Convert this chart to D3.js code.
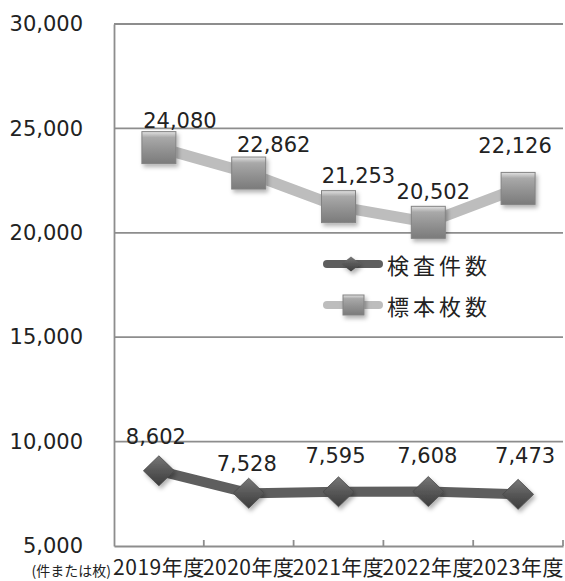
<!DOCTYPE html>
<html>
<head>
<meta charset="utf-8">
<script src="https://cdn.jsdelivr.net/npm/d3@7"></script>
<style>
  html, body { margin: 0; padding: 0; background: #fff; }
</style>
</head>
<body>
<div id="chart"></div>
<script>
// data
const years = ['2019年度', '2020年度', '2021年度', '2022年度', '2023年度'];
const inspections = [8602, 7528, 7595, 7608, 7473];   // 検査件数
const specimens = [24080, 22862, 21253, 20502, 22126]; // 標本枚数
const yTicks = [5000, 10000, 15000, 20000, 25000, 30000];
const seriesNames = ['検査件数', '標本枚数'];

// label nudges (labels were moved by hand in the original)
const specimenLabelShift = [[21, -20], [25, -21], [20, -24], [5, -23], [-3, -35]];
const inspectionLabelShift = [[-3, -27], [-2, -22], [-3, -29], [-1, -29], [7, -31]];

const width = 565;
const height = 581;
const margin = { top: 24, right: 2, bottom: 35, left: 114 };

const svg = d3.select('#chart')
    .append('svg')
    .attr('width', width)
    .attr('height', height);

const defs = svg.append('defs');

const shadow = defs.append('filter')
    .attr('id', 'shadow')
    .attr('x', '-50%').attr('y', '-50%')
    .attr('width', '200%').attr('height', '200%');
shadow.append('feDropShadow')
    .attr('dx', 2).attr('dy', 3)
    .attr('stdDeviation', 2)
    .attr('flood-color', '#000')
    .attr('flood-opacity', 0.3);

const sqGrad = defs.append('linearGradient')
    .attr('id', 'sqGrad').attr('x1', 0).attr('y1', 0).attr('x2', 0).attr('y2', 1);
[['0%', '#e2e2e2'], ['18%', '#a9a9a9'], ['55%', '#939393'], ['100%', '#7b7b7b']]
    .forEach(s => sqGrad.append('stop').attr('offset', s[0]).attr('stop-color', s[1]));

const diaGrad = defs.append('linearGradient')
    .attr('id', 'diaGrad').attr('x1', 0).attr('y1', 0).attr('x2', 0).attr('y2', 1);
[['0%', '#787878'], ['50%', '#575757'], ['100%', '#3d3d3d']]
    .forEach(s => diaGrad.append('stop').attr('offset', s[0]).attr('stop-color', s[1]));

const x = d3.scaleBand()
    .domain(years)
    .range([margin.left, width - margin.right]);

const y = d3.scaleLinear()
    .domain([5000, 30000])
    .range([height - margin.bottom, margin.top]);

const cx = d => x(d) + x.bandwidth() / 2;

// gridlines
svg.append('g')
    .selectAll('line')
    .data(yTicks.slice(1))
    .join('line')
    .attr('x1', margin.left)
    .attr('x2', width - margin.right)
    .attr('y1', d => y(d))
    .attr('y2', d => y(d))
    .attr('stroke', '#8d8d8d')
    .attr('stroke-width', 1.8);

// y axis
const yAxis = g => g.attr('transform', `translate(${margin.left},0)`)
    .call(d3.axisLeft(y)
        .tickValues(yTicks)
        .tickSize(0)
        .tickPadding(31)
        .tickFormat(d3.format(',')))
    .call(g => g.select('.domain').attr('stroke', '#8d8d8d').attr('stroke-width', 1.8))
    .call(g => g.selectAll('text')
        .attr('font-family', '"DejaVu Sans", sans-serif')
        .attr('font-size', 21)
        .attr('fill', '#222'));
svg.append('g').call(yAxis);

// x axis, ticks point inward
const xAxis = g => g.attr('transform', `translate(0,${y(5000)})`)
    .call(d3.axisBottom(x).tickSize(0).tickPadding(14))
    .call(g => g.select('.domain').attr('stroke', '#8d8d8d').attr('stroke-width', 1.8))
    .call(g => g.selectAll('text')
        .attr('font-family', '"Noto Sans CJK JP", sans-serif')
        .attr('font-size', 21)
        .attr('letter-spacing', 0.5)
        .attr('fill', '#222'));
svg.append('g').call(xAxis);

svg.append('g')
    .selectAll('line')
    .data(years.slice(1).map(d => x(d)).concat([x.range()[1]]))
    .join('line')
    .attr('x1', d => d).attr('x2', d => d)
    .attr('y1', y(5000)).attr('y2', y(5000) - 6)
    .attr('stroke', '#8d8d8d')
    .attr('stroke-width', 1.8);

svg.append('text')
    .attr('x', 111)
    .attr('y', 576)
    .attr('text-anchor', 'end')
    .attr('font-family', '"Noto Sans CJK JP", sans-serif')
    .attr('font-size', 14)
    .attr('fill', '#222')
    .text('(件または枚)');

const line = d3.line()
    .x((d, i) => cx(years[i]))
    .y(d => y(d));

// 標本枚数 line + squares
svg.append('path')
    .datum(specimens)
    .attr('d', line)
    .attr('fill', 'none')
    .attr('stroke', '#bdbdbd')
    .attr('stroke-width', 11)
    .attr('stroke-linejoin', 'round');

const sq = 34;
svg.append('g')
    .selectAll('rect')
    .data(specimens)
    .join('rect')
    .attr('x', (d, i) => cx(years[i]) - sq / 2)
    .attr('y', d => y(d) - sq / 2 + 1)
    .attr('width', sq)
    .attr('height', sq - 2)
    .attr('fill', 'url(#sqGrad)')
    .attr('stroke', '#838383')
    .attr('stroke-width', 1)
    .attr('filter', 'url(#shadow)');

// 検査件数 line + diamonds
svg.append('path')
    .datum(inspections)
    .attr('d', line)
    .attr('fill', 'none')
    .attr('stroke', '#5e5e5e')
    .attr('stroke-width', 10)
    .attr('stroke-linejoin', 'round');

const diamond = (px, py, w, h) =>
    `M${px},${py - h / 2}L${px + w / 2},${py}L${px},${py + h / 2}L${px - w / 2},${py}Z`;

svg.append('g')
    .selectAll('path')
    .data(inspections)
    .join('path')
    .attr('d', (d, i) => diamond(cx(years[i]), y(d), 31, 30))
    .attr('fill', 'url(#diaGrad)')
    .attr('stroke', '#4a4a4a')
    .attr('stroke-width', 0.8)
    .attr('filter', 'url(#shadow)');

// value labels
const labels = (values, shift) => svg.append('g')
    .selectAll('text')
    .data(values)
    .join('text')
    .attr('x', (d, i) => cx(years[i]) + shift[i][0])
    .attr('y', (d, i) => y(d) + shift[i][1])
    .attr('text-anchor', 'middle')
    .attr('font-family', '"DejaVu Sans", sans-serif')
    .attr('font-size', 21)
    .attr('fill', '#222')
    .text(d => d3.format(',')(d));

labels(specimens, specimenLabelShift);
labels(inspections, inspectionLabelShift);

// legend
const legend = svg.append('g');
const legendRows = [
    { name: seriesNames[0], y: 264, color: '#5e5e5e', mark: 'diamond' },
    { name: seriesNames[1], y: 305, color: '#bdbdbd', mark: 'square' }
];

legendRows.forEach(r => {
    legend.append('line')
        .attr('x1', 327).attr('x2', 379)
        .attr('y1', r.y).attr('y2', r.y)
        .attr('stroke', r.color)
        .attr('stroke-width', 8)
        .attr('stroke-linecap', 'round');
    if (r.mark === 'diamond') {
        legend.append('path')
            .attr('d', diamond(351, r.y, 19, 15))
            .attr('fill', 'url(#diaGrad)')
            .attr('filter', 'url(#shadow)');
    } else {
        legend.append('rect')
            .attr('x', 343).attr('y', r.y - 10)
            .attr('width', 21).attr('height', 20)
            .attr('fill', 'url(#sqGrad)')
            .attr('stroke', '#838383')
            .attr('filter', 'url(#shadow)');
    }
    legend.append('text')
        .attr('x', 387)
        .attr('y', r.y)
        .attr('dominant-baseline', 'central')
        .attr('font-family', '"Noto Sans CJK JP", sans-serif')
        .attr('font-size', 22)
        .attr('letter-spacing', 4)
        .attr('fill', '#222')
        .text(r.name);
});
</script>
</body>
</html>
